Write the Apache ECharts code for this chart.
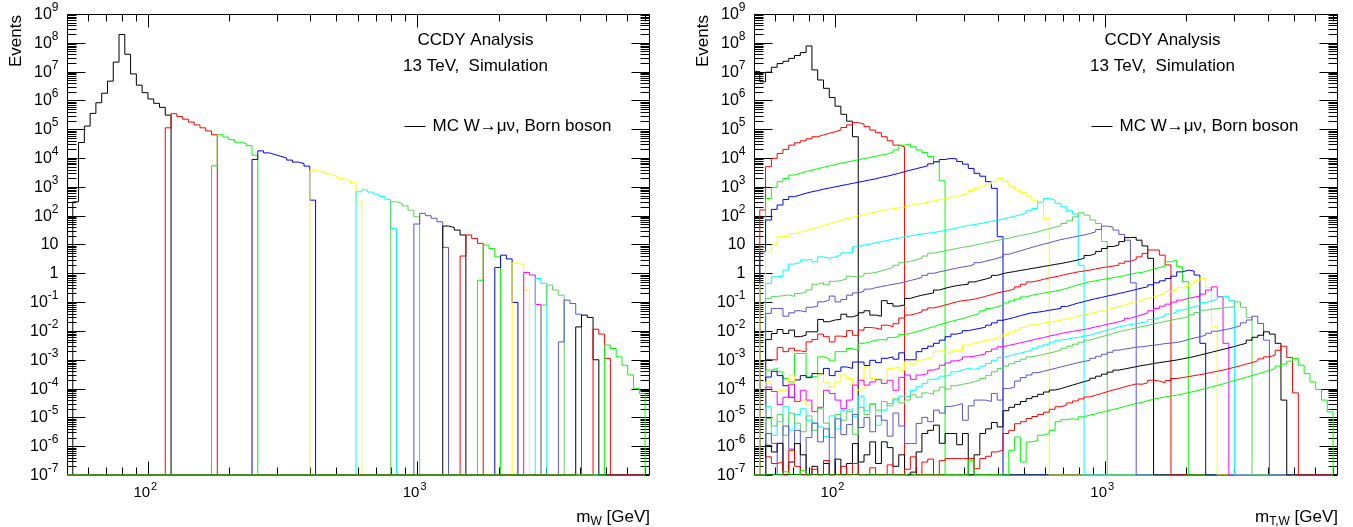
<!DOCTYPE html>
<html>
<head>
<meta charset="utf-8">
<title>CCDY W mass slices</title>
<script src="https://cdn.jsdelivr.net/npm/echarts@6.0.0/dist/echarts.min.js"></script>
<style>
  html, body { margin: 0; padding: 0; background: #fff; }
  #chart { width: 1353px; height: 527px; }
</style>
</head>
<body>
<div id="chart"></div>
<script>
// histogram binning shared by both panels: 100 log bins from 50 to 7000 GeV
const binLow = 50;
const binHigh = 7000;
const nBins = 100;

// axis ranges and tick labels
const xMin = 50, xMax = 7300;
const yMin = 1e-7, yMax = 1e9;
const yDecades = [-7, -6, -5, -4, -3, -2, -1, 0, 1, 2, 3, 4, 5, 6, 7, 8, 9];
const xDecades = [2, 3];

// Born mass slices of the MC samples (GeV)
const massSlices = [
  [50, 120], [120, 180], [180, 250], [250, 400], [400, 600], [600, 800], [800, 1000],
  [1000, 1250], [1250, 1500], [1500, 1750], [1750, 2000], [2000, 2250], [2250, 2500],
  [2500, 2750], [2750, 3000], [3000, 3500], [3500, 4000], [4000, 4500], [4500, 5000], [5000, 7000]
];

// left panel, m_W: log10(Events) per bin, starting at the bin holding the slice's lower edge
const mW00 = [null, 2.48, 4.54, 5.11, 5.55, 5.92, 6.25, 6.67, 7.33, 8.29, 7.60, 6.92, 6.53, 6.27, 6.05, 5.90, 5.76, 5.49];
const mW01 = [5.05, 5.54, 5.44, 5.35, 5.25, 5.15, 5.05, 4.94, 4.81];
const mW02 = [3.73, 4.81, 4.73, 4.64, 4.55, 4.50, 4.43, 4.10];
const mW03 = [3.95, 4.25, 4.18, 4.12, 4.06, 4.00, 3.93, 3.86, 3.81, 3.72, 2.54];
const mW04 = [3.58, 3.53, 3.47, 3.41, 3.35, 3.28, 3.22, 3.14, 2.48];
const mW05 = [2.83, 2.90, 2.82, 2.75, 2.67, 2.57, 1.56];
const mW06 = [2.48, 2.42, 2.34, 2.19, 1.96];
const mW07 = [1.71, 2.08, 2.00, 1.91, 1.79, 0.90];
const mW08 = [1.64, 1.59, 1.50, 1.33];
const mW09 = [0.60, 1.33, 1.21, 1.04];
const mW10 = [-0.24, 0.98, 0.86, 0.57];
const mW11 = [0.20, 0.63, 0.50, -1.01];
const mW12 = [0.36, 0.30, -0.58];
const mW13 = [0.03, -0.06, -1.08];
const mW14 = [-0.18, -0.35];
const mW15 = [-1.10, -0.41, -0.58, -0.76];
const mW16 = [-2.38, -0.93, -1.05, -1.42];
const mW17 = [-1.86, -1.45, -1.53, -3.00];
const mW18 = [-1.94, -2.11, -2.96];
const mW19 = [-2.49, -2.61, -2.90, -3.19, -3.53, -4.00, -4.17];

// right panel, m_T,W: log10(Events) per bin from bin 0, null = empty bin
const mT00 = [7.00, 6.65, 6.98, 7.15, 7.28, 7.36, 7.46, 7.56, 7.66, 7.89,
  7.06, 6.71, 6.42, 6.10, 5.80, 5.52, 5.28, 4.74];
const mT01 = [null, 2.20, 3.70, 3.99, 4.16, 4.30, 4.45, 4.53, 4.60, 4.67,
  4.74, 4.80, 4.86, 4.91, 4.97, 5.06, 5.15, 5.23, 5.18, 5.09,
  4.97, 4.88, 4.74, 4.60, 4.45, 4.39];
const mT02 = [null, 0.90, 2.60, 2.98, 3.18, 3.29, 3.41, 3.47, 3.53, 3.58,
  3.63, 3.68, 3.73, 3.77, 3.82, 3.86, 3.90, 3.94, 3.98, 4.02,
  4.06, 4.10, 4.14, 4.20, 4.28, 4.45, 4.49, 4.39, 4.28, 4.19,
  4.05, 3.87, 3.21];
const mT03 = [null, 0.75, 1.85, 2.22, 2.37, 2.56, 2.66, 2.72, 2.78, 2.83,
  2.87, 2.92, 2.96, 3.00, 3.04, 3.08, 3.12, 3.16, 3.20, 3.24,
  3.28, 3.33, 3.37, 3.42, 3.47, 3.53, 3.58, 3.63, 3.68, 3.73,
  3.80, 3.87, 3.95, 3.99, 3.97, 3.88, 3.79, 3.64, 3.47, 3.37,
  3.18, 2.95, 1.27];
const mT04 = [null, -0.35, 0.75, 0.98, 1.27, 1.29, 1.38, 1.43, 1.49, 1.55,
  1.60, 1.66, 1.72, 1.78, 1.84, 1.89, 1.94, 1.99, 2.04, 2.09,
  2.13, 2.17, 2.21, 2.24, 2.27, 2.31, 2.35, 2.39, 2.43, 2.47,
  2.51, 2.55, 2.59, 2.63, 2.67, 2.72, 2.77, 2.87, 2.95, 3.03,
  3.10, 3.18, 3.29, 3.18, 3.03, 2.89, 2.80, 2.68, 2.54, 2.43,
  1.90];
const mT05 = [null, null, -0.35, -0.12, -0.10, 0.11, 0.32, 0.37, 0.46, 0.48,
  0.40, 0.57, 0.52, 0.57, 0.63, 0.71, 0.71, 0.92, 0.98, 1.01,
  1.06, 1.10, 1.14, 1.18, 1.22, 1.27, 1.30, 1.33, 1.36, 1.39,
  1.41, 1.45, 1.49, 1.53, 1.57, 1.62, 1.66, 1.69, 1.72, 1.76,
  1.80, 1.84, 1.88, 1.93, 1.98, 2.03, 2.09, 2.17, 2.25, 2.48,
  2.60, 2.54, 2.43, 2.31, 2.17, 2.06, 0.28];
const mT06 = [null, null, -0.87, -0.80, -0.78, -0.75, -0.80, -0.70, -0.65, -0.58,
  -0.38, -0.32, -0.40, -0.28, -0.25, -0.20, -0.10, -0.13, -0.08, 0.00,
  0.03, 0.08, 0.14, 0.20, 0.28, 0.37, 0.42, 0.47, 0.52, 0.60,
  0.70, 0.74, 0.78, 0.82, 0.86, 0.90, 0.93, 0.97, 1.02, 1.06,
  1.10, 1.14, 1.18, 1.22, 1.27, 1.31, 1.35, 1.39, 1.44, 1.50,
  1.55, 1.60, 1.65, 1.73, 1.82, 1.96, 2.10, 2.02, 1.85, 1.73,
  1.10];
const mT07 = [null, null, -1.39, -1.22, -1.22, -1.49, -1.37, -1.30, -1.34, -1.18,
  -1.14, -0.99, -0.93, -0.79, -0.99, -0.91, -0.76, -0.68, -0.62, -0.55,
  -0.50, -0.46, -0.42, -0.38, -0.35, -0.30, -0.25, -0.20, -0.14, -0.07,
  0.00, 0.05, 0.09, 0.14, 0.18, 0.22, 0.25, 0.30, 0.37, 0.42,
  0.47, 0.52, 0.58, 0.66, 0.72, 0.78, 0.84, 0.90, 0.96, 1.01,
  1.06, 1.12, 1.17, 1.21, 1.25, 1.29, 1.33, 1.38, 1.44, 1.52,
  1.64, 1.60, 1.50, 1.35, 1.15, -0.33];
const mT08 = [null, null, -2.30, -2.09, -1.95, -2.09, -1.97, -2.20, -2.15, -2.03,
  -2.03, -1.60, -1.68, -1.62, -1.60, -1.42, -1.51, -1.45, -1.37, -1.30,
  -1.45, -1.49, -0.95, -1.05, -1.14, -1.10, -0.87, -0.81, -0.76, -0.72,
  -0.68, -0.58, -0.52, -0.47, -0.43, -0.40, -0.38, -0.30, -0.25, -0.20,
  -0.14, -0.07, -0.01, 0.03, 0.06, 0.10, 0.13, 0.17, 0.20, 0.24,
  0.27, 0.31, 0.34, 0.38, 0.42, 0.47, 0.52, 0.62, 0.68, 0.76,
  0.86, 0.93, 0.98, 1.10, 1.24, 1.25, 1.15, 0.95, 0.52];
const mT09 = [null, null, -2.99, -3.01, -2.57, -2.72, -2.60, -2.69, -2.72, -2.38,
  -2.30, -2.11, -2.20, -2.38, -2.18, -2.20, -1.99, -2.15, -1.97, -1.88,
  -1.90, -1.95, -1.80, -1.85, -1.75, -1.55, -1.45, -1.40, -1.34, -1.27,
  -1.20, -1.16, -1.10, -1.05, -0.99, -0.95, -0.93, -0.90, -0.85, -0.80,
  -0.74, -0.68, -0.64, -0.60, -0.54, -0.47, -0.38, -0.30, -0.26, -0.21,
  -0.16, -0.12, -0.08, -0.03, 0.01, 0.05, 0.08, 0.11, 0.15, 0.19,
  0.22, 0.25, 0.28, 0.35, 0.42, 0.48, 0.57, 0.69, 0.81, 0.81,
  0.63, 0.29];
const mT10 = [null, null, -3.36, -3.30, -3.42, -3.65, -3.77, -2.78, -2.78, -3.59,
  -3.59, -2.90, -2.96, -3.04, -2.72, -2.72, -2.61, -2.67, -2.43, -2.38,
  -2.32, -2.30, -2.32, -2.23, -2.20, -2.12, -2.09, -2.03, -1.97, -1.91,
  -1.85, -1.79, -1.73, -1.67, -1.62, -1.57, -1.51, -1.45, -1.39, -1.30,
  -1.22, -1.16, -1.10, -1.03, -0.96, -0.89, -0.82, -0.76, -0.72, -0.69,
  -0.65, -0.62, -0.58, -0.52, -0.46, -0.40, -0.35, -0.29, -0.26, -0.22,
  -0.19, -0.15, -0.12, -0.08, -0.03, 0.01, 0.03, 0.09, 0.15, 0.20,
  0.25, 0.40, 0.46, 0.23, -0.29];
const mT11 = [null, null, -3.60, -3.40, -3.55, -3.90, -4.30, -3.70, -3.55, -3.62,
  -3.48, -3.50, -3.30, -3.55, -3.40, -3.25, -3.30, -3.08, -3.08, -3.20,
  -3.02, -3.10, -2.95, -2.90, -2.98, -2.76, -3.00, -3.00, -2.72, -2.61,
  -2.53, -2.43, -2.32, -2.20, -2.11, -2.06, -1.99, -1.95, -1.91, -1.87,
  -1.80, -1.72, -1.63, -1.58, -1.53, -1.47, -1.42, -1.37, -1.35, -1.32,
  -1.28, -1.25, -1.22, -1.15, -1.09, -1.03, -0.98, -0.93, -0.88, -0.84,
  -0.79, -0.75, -0.70, -0.66, -0.61, -0.56, -0.51, -0.47, -0.40, -0.33,
  -0.26, -0.18, -0.10, 0.05, 0.11, 0.08, -0.06, -2.43];
const mT12 = [null, null, -3.77, -4.10, -4.06, -4.05, -3.55, -4.40, -4.40, -4.58,
  -4.80, -3.53, -3.80, -3.95, -3.77, -3.53, -3.65, -4.05, -4.05, -3.25,
  -3.65, -3.70, -3.70, -3.30, -3.25, -3.36, -3.07, -3.15, -3.01, -2.96,
  -2.90, -2.72, -2.67, -2.78, -2.69, -2.67, -2.49, -2.43, -2.38, -2.34,
  -2.30, -2.25, -2.20, -2.12, -2.04, -1.96, -1.88, -1.80, -1.77, -1.73,
  -1.70, -1.66, -1.63, -1.58, -1.54, -1.49, -1.45, -1.40, -1.35, -1.31,
  -1.26, -1.21, -1.16, -1.10, -1.04, -0.99, -0.93, -0.87, -0.82, -0.76,
  -0.70, -0.63, -0.57, -0.50, -0.44, -0.37, -0.26, -0.18, -0.49, -1.83];
const mT13 = [null, null, -3.95, -4.10, -4.55, -4.30, -3.85, -4.45, -4.06, -4.40,
  -4.80, -4.65, -4.06, -4.17, -4.40, -4.70, -4.40, -3.88, -3.71, -3.88,
  -3.77, -3.69, -3.82, -3.71, -4.06, -3.61, -3.53, -3.68, -3.53, -3.48,
  -3.36, -3.30, -3.19, -3.11, -3.04, -2.99, -2.90, -2.88, -2.84, -2.80,
  -2.72, -2.63, -2.55, -2.50, -2.46, -2.41, -2.37, -2.32, -2.27, -2.23,
  -2.18, -2.14, -2.09, -2.05, -2.02, -1.98, -1.95, -1.91, -1.86, -1.82,
  -1.77, -1.73, -1.68, -1.63, -1.56, -1.50, -1.44, -1.38, -1.30, -1.22,
  -1.14, -1.07, -1.00, -0.93, -0.87, -0.83, -0.79, -0.72, -0.58, -0.47,
  -0.81, -2.43];
const mT14 = [null, null, -4.63, -5.62, -5.15, -4.63, -5.44, -4.90, -4.70, -5.10,
  -5.20, -5.33, -5.67, -4.95, -5.40, -4.75, -4.70, -4.98, -4.26, -4.75,
  -4.52, -5.27, -4.75, -4.52, -4.40, -4.26, -4.29, -4.06, -3.94, -3.82,
  -3.68, -3.65, -3.57, -3.53, -3.42, -3.36, -3.30, -3.33, -3.30, -3.22,
  -3.13, -3.02, -2.92, -2.87, -2.82, -2.77, -2.72, -2.67, -2.60, -2.53,
  -2.46, -2.39, -2.32, -2.29, -2.25, -2.22, -2.18, -2.15, -2.09, -2.03,
  -1.97, -1.92, -1.86, -1.82, -1.78, -1.75, -1.71, -1.68, -1.60, -1.54,
  -1.48, -1.41, -1.35, -1.28, -1.22, -1.16, -1.10, -1.02, -0.96, -0.90,
  -0.82, -0.79, -0.95];
const mT15 = [null, null, -5.04, -5.30, -4.90, -5.62, -4.85, -5.20, -5.50, -4.95,
  -5.45, -4.70, -5.20, -5.70, -4.90, -5.10, -4.80, -5.60, -4.65, -4.90,
  -4.55, -4.75, -4.45, -4.60, -4.36, -4.50, -4.40, -4.22, -4.30, -4.15,
  -4.20, -4.08, -3.95, -4.02, -3.90, -3.85, -3.82, -3.76, -3.72, -3.65,
  -3.55, -3.42, -3.30, -3.22, -3.14, -3.06, -2.98, -2.90, -2.86, -2.81,
  -2.77, -2.72, -2.67, -2.60, -2.53, -2.46, -2.39, -2.32, -2.26, -2.20,
  -2.15, -2.09, -2.03, -1.98, -1.94, -1.89, -1.85, -1.81, -1.76, -1.71,
  -1.67, -1.63, -1.59, -1.55, -1.51, -1.44, -1.36, -1.28, -1.25, -1.22,
  -1.20, -1.18, -1.16, -0.99, -1.18, -1.53];
const mT16 = [null, null, -5.56, -5.90, null, -5.30, -6.10, -5.45, null, -5.70,
  -5.20, -5.85, -5.40, null, -5.05, -5.60, -5.25, -4.90, -5.35, -5.00,
  -5.50, -4.95, -5.10, -5.65, -4.85, -5.30, -5.91, -5.91, -5.21, -5.00,
  -5.15, -4.75, -4.85, -4.62, -4.58, -4.52, -5.10, -4.60, -4.40, -4.40,
  -4.45, -4.17, -4.40, -4.00, -3.95, -3.74, -3.62, -3.53, -3.45, -3.40,
  -3.35, -3.30, -3.25, -3.20, -3.15, -3.10, -3.06, -3.02, -2.95, -2.88,
  -2.81, -2.74, -2.67, -2.63, -2.60, -2.56, -2.55, -2.52, -2.50, -2.47,
  -2.44, -2.42, -2.40, -2.36, -2.30, -2.25, -2.20, -2.15, -2.08, -2.01,
  -1.97, -1.93, -1.88, -1.82, -1.72, -1.62, -1.49, -1.74, -2.32];
const mT17 = [null, null, -5.97, -6.20, -5.90, null, -6.55, -5.91, -6.30, null,
  -6.70, null, -6.60, null, -6.45, null, -6.60, -5.91, -6.55, -6.30,
  -5.85, -6.60, -5.85, -6.05, -6.70, -6.30, null, -6.90, -6.20, -5.56,
  -5.45, -5.27, -5.90, -5.56, -5.56, -5.95, -5.56, null, -6.30, -5.56,
  -5.40, -5.18, -5.33, -4.77, -4.65, -4.55, -4.45, -4.35, -4.28, -4.20,
  -4.12, -4.05, -4.00, -3.94, -3.88, -3.82, -3.76, -3.71, -3.64, -3.57,
  -3.50, -3.43, -3.36, -3.32, -3.28, -3.24, -3.20, -3.17, -3.13, -3.10,
  -3.07, -3.04, -3.01, -2.97, -2.93, -2.89, -2.84, -2.79, -2.74, -2.69,
  -2.64, -2.59, -2.54, -2.48, -2.43, -2.32, -2.22, -2.15, -2.03, -2.11,
  -2.43, -4.40];
const mT18 = [null, null, -6.37, -6.60, -6.55, null, -6.14, -6.70, null, null,
  -6.80, null, -6.50, null, null, -6.70, null, -6.60, null, null,
  -6.75, null, null, -6.65, null, null, -6.80, -6.37, null, -6.55,
  -6.45, null, -6.50, -6.43, -6.43, -6.43, -6.43, -6.43, -6.78, -6.43,
  -6.35, -6.20, -6.14, -5.56, -5.45, -5.22, -5.15, -5.04, -4.97, -4.90,
  -4.82, -4.72, -4.63, -4.57, -4.50, -4.43, -4.36, -4.29, -4.23, -4.17,
  -4.11, -4.05, -4.00, -3.94, -3.89, -3.84, -3.85, -3.80, -3.71, -3.74,
  -3.80, -3.72, -3.65, -3.62, -3.59, -3.55, -3.52, -3.48, -3.44, -3.40,
  -3.36, -3.31, -3.26, -3.21, -3.15, -3.10, -3.04, -2.97, -2.90, -2.84,
  -2.67, -2.53, -2.92, -4.15];
const mT19 = [null, null, null, null, null, -6.89, null, null, -6.85, null,
  null, null, null, null, null, null, null, null, null, null,
  null, null, null, null, null, null, -6.95, null, null, null,
  null, null, null, null, null, null, null, -6.49, null, null,
  null, null, null, null, -6.14, -5.68, -6.55, -5.85, -5.80, -5.62,
  -5.56, -5.45, -5.15, -5.08, -5.05, -5.08, -4.98, -4.92, -4.88, -4.82,
  -4.78, -4.72, -4.68, -4.62, -4.57, -4.52, -4.48, -4.42, -4.37, -4.33,
  -4.29, -4.26, -4.23, -4.19, -4.14, -4.10, -4.05, -4.00, -3.94, -3.89,
  -3.84, -3.78, -3.72, -3.67, -3.61, -3.55, -3.49, -3.43, -3.37, -3.31,
  -3.22, -3.15, -3.05, -2.96, -3.19, -3.48, -3.77, -4.03, -4.40, -4.81];

const mWSeries = [mW00, mW01, mW02, mW03, mW04, mW05, mW06, mW07, mW08, mW09,
  mW10, mW11, mW12, mW13, mW14, mW15, mW16, mW17, mW18, mW19];
const mTSeries = [mT00, mT01, mT02, mT03, mT04, mT05, mT06, mT07, mT08, mT09,
  mT10, mT11, mT12, mT13, mT14, mT15, mT16, mT17, mT18, mT19];

// ROOT palette, one colour per slice
const sliceColors = ['#000000', '#ff0000', '#00ff00', '#0000ff', '#ffff00', '#00ffff', '#59d454', '#5954d8',
  '#000000', '#ff0000', '#00ff00', '#0000ff', '#ffff00', '#ff00ff', '#00ffff', '#59d454', '#5954d8',
  '#000000', '#ff0000', '#00ff00'];

const FONT = '"Liberation Sans", Arial, Helvetica, sans-serif';
const LABEL = 16, EXP = 12, XLABEL = 15, XEXP = 11, TITLE = 17, SUB = 12;

const edges = [];
for (let i = 0; i <= nBins; i++) edges.push(binLow * Math.pow(binHigh / binLow, i / nBins));
const binOf = m => Math.floor(Math.log(m / binLow) / Math.log(binHigh / binLow) * nBins + 1e-9);

// step points of a histogram; empty bins sit on the bottom of the frame like in ROOT
function histData(firstBin, logVals) {
  const pts = [];
  for (let i = 0; i < nBins; i++) {
    const lv = logVals[i - firstBin];
    pts.push([edges[i], (lv === undefined || lv === null) ? yMin : Math.pow(10, lv)]);
  }
  pts.push([edges[nBins], yMin]);
  return pts;
}

const measure = document.createElement('canvas').getContext('2d');
function textWidth(s, size) {
  measure.font = size + 'px ' + FONT;
  return measure.measureText(s).width;
}
function textEl(str, x, y, align, vAlign, size, extra) {
  return Object.assign({
    type: 'text', x: x, y: y,
    style: {
      text: str, font: size + 'px ' + FONT, fill: '#000',
      textAlign: align, align: align, textVerticalAlign: vAlign, verticalAlign: vAlign
    }
  }, extra || {});
}

// frame, ROOT-like ticks on all sides, labels and panel texts
function makeAxes(sub) {
  return function (params, api) {
    const els = [];
    const seg = (x1, y1, x2, y2) => els.push({
      type: 'line', shape: { x1: x1, y1: y1, x2: x2, y2: y2 }, style: { stroke: '#000', lineWidth: 1 }
    });
    const lo = api.coord([xMin, yMin]);
    const hi = api.coord([xMax, yMax]);
    const L = Math.round(lo[0]) + 0.5, R = Math.round(hi[0]) - 0.5;
    const T = Math.round(hi[1]) + 0.5, B = Math.round(lo[1]) - 0.5;
    seg(L, T, R, T); seg(R, T, R, B); seg(R, B, L, B); seg(L, B, L, T);

    yDecades.forEach((e, idx) => {
      const y = Math.round(api.coord([xMin, Math.pow(10, e)])[1]) + 0.5;
      seg(L, y, L + 18, y); seg(R - 18, y, R, y);
      const right = L - 9;
      if (e === 0 || e === 1) {
        els.push(textEl(e === 0 ? '1' : '10', right, y, 'right', 'middle', LABEL));
      } else {
        const s = String(e);
        els.push(textEl('10', right - textWidth(s, EXP), y, 'right', 'middle', LABEL));
        els.push(textEl(s, right, y - 7, 'right', 'middle', EXP));
      }
      if (idx < yDecades.length - 1) {
        for (let k = 2; k <= 9; k++) {
          const ym = Math.round(api.coord([xMin, k * Math.pow(10, e)])[1]) + 0.5;
          seg(L, ym, L + 9, ym); seg(R - 9, ym, R, ym);
        }
      }
    });

    [10, 100, 1000].forEach(d => {
      for (let k = 1; k <= 9; k++) {
        const v = k * d;
        if (v <= xMin || v >= xMax) continue;
        const x = Math.round(api.coord([v, yMin])[0]) + 0.5;
        const len = k === 1 ? 13 : 7;
        seg(x, B, x, B - len); seg(x, T, x, T + len);
      }
    });
    xDecades.forEach(e => {
      const x = api.coord([Math.pow(10, e), yMin])[0];
      els.push(textEl('10', x + 2, B + 18, 'right', 'middle', XLABEL));
      els.push(textEl(String(e), x + 3, B + 12, 'left', 'middle', XEXP));
    });

    // axis titles
    const gev = ' [GeV]';
    const gw = textWidth(gev, TITLE), sw = textWidth(sub, SUB);
    els.push(textEl(gev, R + 0.5, B + 43, 'right', 'middle', TITLE));
    els.push(textEl(sub, R + 0.5 - gw, B + 47, 'right', 'middle', SUB));
    els.push(textEl('m', R + 0.5 - gw - sw, B + 43, 'right', 'middle', TITLE));
    els.push(textEl('Events', L - 43, T + 0.5, 'right', 'bottom', TITLE, { rotation: Math.PI / 2 }));

    // panel annotation and legend
    els.push(textEl('CCDY Analysis', L + 408, T + 25.5, 'center', 'middle', TITLE));
    els.push(textEl('13 TeV,  Simulation', L + 408, T + 51.5, 'center', 'middle', TITLE));
    seg(L + 337, T + 112, L + 358, T + 112);
    els.push(textEl('MC W\u2192\u03bc\u03bd, Born boson', L + 365, T + 111.5, 'left', 'middle', TITLE));
    return { type: 'group', children: els };
  };
}

const series = [];
[0, 1].forEach(p => {
  series.push({
    type: 'custom', xAxisIndex: p, yAxisIndex: p, data: [[100, 1]],
    renderItem: makeAxes(p === 0 ? 'W' : 'T,W'), silent: true, z: 1, clip: false
  });
});
mWSeries.forEach((vals, k) => {
  series.push({
    type: 'line', xAxisIndex: 0, yAxisIndex: 0, step: 'end', symbol: 'none', showSymbol: false,
    data: histData(binOf(massSlices[k][0]), vals),
    lineStyle: { color: sliceColors[k], width: 1 }, itemStyle: { color: sliceColors[k] },
    silent: true, z: 2, emphasis: { disabled: true }
  });
});
mTSeries.forEach((vals, k) => {
  series.push({
    type: 'line', xAxisIndex: 1, yAxisIndex: 1, step: 'end', symbol: 'none', showSymbol: false,
    data: histData(0, vals),
    lineStyle: { color: sliceColors[k], width: 1 }, itemStyle: { color: sliceColors[k] },
    silent: true, z: 2, emphasis: { disabled: true }
  });
});

const hiddenAxis = { show: true, axisLine: { show: false }, axisTick: { show: false }, axisLabel: { show: false }, splitLine: { show: false } };
const chart = echarts.init(document.getElementById('chart'), null, { renderer: 'canvas' });
chart.setOption({
  animation: false,
  backgroundColor: '#ffffff',
  grid: [
    { left: 67, top: 14, width: 583, height: 461 },
    { left: 754, top: 14, width: 584, height: 461 }
  ],
  xAxis: [0, 1].map(i => Object.assign({ type: 'log', gridIndex: i, min: xMin, max: xMax }, hiddenAxis)),
  yAxis: [0, 1].map(i => Object.assign({ type: 'log', gridIndex: i, min: yMin, max: yMax }, hiddenAxis)),
  series: series
});
</script>
</body>
</html>
